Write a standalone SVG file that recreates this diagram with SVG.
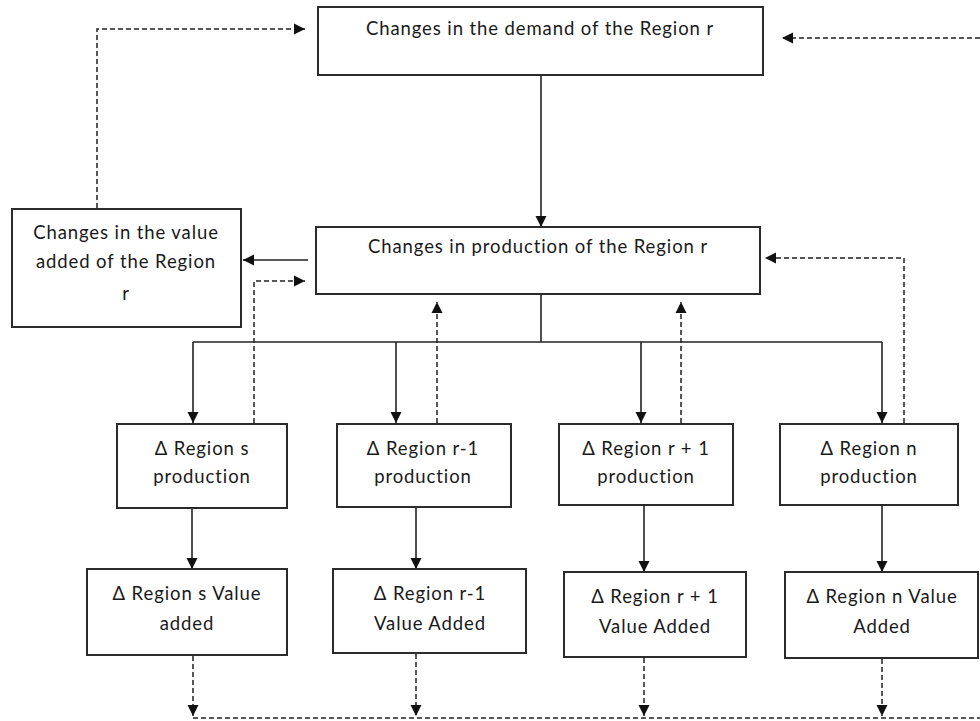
<svg xmlns="http://www.w3.org/2000/svg" width="980" height="721" viewBox="0 0 980 721">
<style>
.box{fill:#fff;stroke:#2b2b2b;stroke-width:2}
.t{font-family:Lato,"Open Sans","Liberation Sans",sans-serif;font-size:18.5px;letter-spacing:0.9px;fill:#1a1a1a;text-anchor:middle}
.s{fill:none;stroke:#222;stroke-width:1.6}
.d{fill:none;stroke:#222;stroke-width:1.5;stroke-dasharray:5,3}
</style>
<defs>
<marker id="ah" markerUnits="userSpaceOnUse" markerWidth="12" markerHeight="12" refX="11" refY="6" orient="auto">
<path d="M0,0.5 L11,6 L0,11.5 z" fill="#111"/>
</marker>
</defs>
<rect width="980" height="721" fill="#fff"/>
<g id="connectors">
<line class="s" x1="541" y1="76" x2="541" y2="227" marker-end="url(#ah)"/>
<line class="s" x1="308" y1="260" x2="243" y2="260" marker-end="url(#ah)"/>
<polyline class="s" points="541,294 541,342"/>
<polyline class="s" points="193,342 882,342"/>
<line class="s" x1="193" y1="342" x2="193" y2="423" marker-end="url(#ah)"/>
<line class="s" x1="396" y1="342" x2="396" y2="423" marker-end="url(#ah)"/>
<line class="s" x1="641" y1="342" x2="641" y2="423" marker-end="url(#ah)"/>
<line class="s" x1="882" y1="342" x2="882" y2="423" marker-end="url(#ah)"/>
<polyline class="d" points="254,423 254,281 305,281" marker-end="url(#ah)"/>
<line class="d" x1="437" y1="423" x2="437" y2="302" marker-end="url(#ah)"/>
<line class="d" x1="681" y1="423" x2="681" y2="302" marker-end="url(#ah)"/>
<polyline class="d" points="904,423 904,258 765,258" marker-end="url(#ah)"/>
<polyline class="d" points="97,208 97,29 305,29" marker-end="url(#ah)"/>
<line class="d" x1="980" y1="38" x2="782" y2="38" marker-end="url(#ah)"/>
<line class="s" x1="192" y1="509" x2="192" y2="569" marker-end="url(#ah)"/>
<line class="s" x1="416" y1="508" x2="416" y2="569" marker-end="url(#ah)"/>
<line class="s" x1="644" y1="506" x2="644" y2="572" marker-end="url(#ah)"/>
<line class="s" x1="882" y1="506" x2="882" y2="572" marker-end="url(#ah)"/>
<line class="d" x1="193" y1="656" x2="193" y2="716" marker-end="url(#ah)"/>
<line class="d" x1="416" y1="654" x2="416" y2="716" marker-end="url(#ah)"/>
<line class="d" x1="644" y1="658" x2="644" y2="716" marker-end="url(#ah)"/>
<line class="d" x1="882" y1="659" x2="882" y2="716" marker-end="url(#ah)"/>
<line class="d" x1="193" y1="718" x2="980" y2="718"/>
</g>
<g id="demand">
<rect class="box" x="318" y="7" width="445" height="68"/>
<text class="t" x="540" y="35">Changes in the demand of the Region r</text>
</g>
<g id="production">
<rect class="box" x="316" y="227" width="444" height="67"/>
<text class="t" x="538" y="253">Changes in production of the Region r</text>
</g>
<g id="valueadded">
<rect class="box" x="12" y="209" width="229" height="118"/>
<text class="t" x="126" y="239">Changes in the value</text>
<text class="t" x="126" y="268">added of the Region</text>
<text class="t" x="126" y="300">r</text>
</g>
<g id="s_prod">
<rect class="box" x="117" y="424" width="170" height="84"/>
<text class="t" x="202" y="455">Δ Region s</text>
<text class="t" x="202" y="483">production</text>
</g>
<g id="r1m_prod">
<rect class="box" x="337" y="424" width="174" height="83"/>
<text class="t" x="423" y="455">Δ Region r-1</text>
<text class="t" x="423" y="483">production</text>
</g>
<g id="r1p_prod">
<rect class="box" x="559" y="424" width="174" height="81"/>
<text class="t" x="646" y="455">Δ Region r + 1</text>
<text class="t" x="646" y="483">production</text>
</g>
<g id="n_prod">
<rect class="box" x="780" y="424" width="178" height="81"/>
<text class="t" x="869" y="455">Δ Region n</text>
<text class="t" x="869" y="483">production</text>
</g>
<g id="s_va">
<rect class="box" x="87" y="569" width="200" height="86"/>
<text class="t" x="187" y="600">Δ Region s Value</text>
<text class="t" x="187" y="630">added</text>
</g>
<g id="r1m_va">
<rect class="box" x="333" y="569" width="193" height="84"/>
<text class="t" x="430" y="600">Δ Region r-1</text>
<text class="t" x="430" y="630">Value Added</text>
</g>
<g id="r1p_va">
<rect class="box" x="564" y="572" width="182" height="85"/>
<text class="t" x="655" y="603">Δ Region r + 1</text>
<text class="t" x="655" y="633">Value Added</text>
</g>
<g id="n_va">
<rect class="box" x="785" y="572" width="193" height="86"/>
<text class="t" x="882" y="603">Δ Region n Value</text>
<text class="t" x="882" y="633">Added</text>
</g>
</svg>
